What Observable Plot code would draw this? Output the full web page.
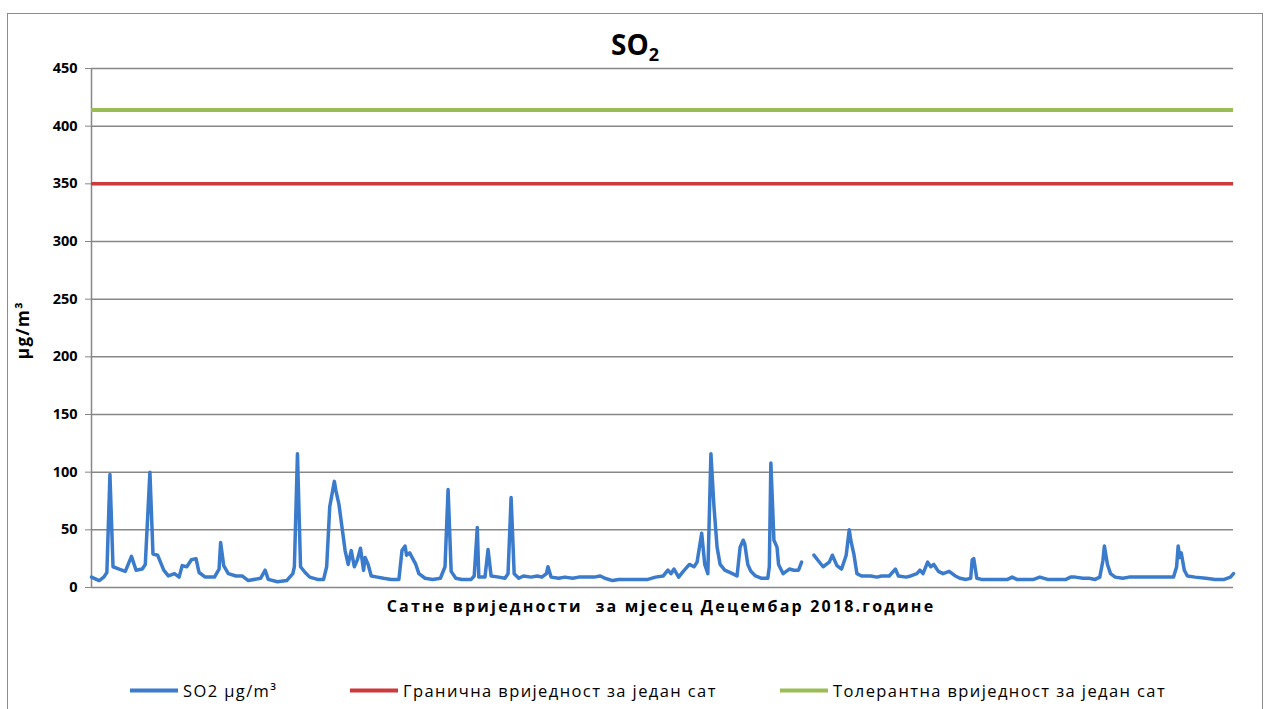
<!DOCTYPE html>
<html>
<head>
<meta charset="utf-8">
<script src="https://cdn.jsdelivr.net/npm/d3@7"></script>
<script src="https://cdn.jsdelivr.net/npm/@observablehq/plot@0.6"></script>
<style>
  body { margin: 0; background: #fff; }
  #wrap { position: relative; width: 1270px; height: 709px; overflow: hidden; font-family: "Open Sans", "Noto Sans", sans-serif; }
  #frame { position: absolute; left: 7px; top: 13px; width: 1256px; height: 720px; border: 1px solid #8c8c8c; box-sizing: border-box; }
  #chart { position: absolute; left: 0; top: 0; }
  #title { position: absolute; left: 0; width: 1270px; top: 25px; text-align: center; font-weight: bold; font-size: 28px; color: #000; }
  #title sub { font-size: 18px; vertical-align: -6px; }
  #ylab { position: absolute; left: 22px; top: 330px; transform: translate(-50%, -50%) rotate(-90deg); font-weight: bold; font-size: 17px; letter-spacing: 1.5px; white-space: nowrap; }
  #xlab { position: absolute; left: 661px; top: 606px; transform: translate(-50%, -50%); font-weight: bold; font-size: 16px; letter-spacing: 2.2px; white-space: pre; }
  .leg { position: absolute; top: 690px; transform: translateY(-50%); font-size: 16.5px; letter-spacing: 1.4px; white-space: nowrap; display: flex; align-items: center; }
  .sw { display: inline-block; width: 48px; height: 4px; margin-right: 5px; }
</style>
</head>
<body>
<div id="wrap">
  <div id="frame"></div>
  <div id="chart"></div>
  <div id="title">SO<sub>2</sub></div>
  <div id="ylab">µg/m³</div>
  <div id="xlab">Сатне вриједности  за мјесец Децембар 2018.године</div>
  <div id="legend"></div>
</div>
<script>
// Hour of month (0..743) and SO2 hourly concentration (µg/m³)
const hours = [0,5,8,10,12,14,18,22,26,29,33,35,38,40,43,47,50,54,57,59,62,65,68,70,74,80,83,84,86,89,94,98,102,
  110,113,115,121,127,131,132,134,136,139,142,147,151,153,155,158,159,161,163,165,167,169,171,173,175,177,178,180,182,186,190,195,200,202,204,205,207,209,
  211,213,217,222,227,230,232,234,237,241,247,249,251,252,256,258,260,265,269,271,273,275,278,281,286,290,293,296,297,299,304,308,313,317,
  322,327,331,334,339,343,347,352,356,362,367,372,375,377,379,382,385,389,392,394,397,399,401,403,405,407,409,412,417,420,422,424,
  425,427,429,432,436,440,441,442,444,446,447,450,454,457,460,462,466,
  470,473,476,480,482,485,488,491,493,494,496,498,501,507,511,514,519,523,525,530,533,
  537,539,541,544,546,548,551,554,558,562,565,569,572,573,574,576,579,585,591,596,599,602,608,613,617,622,628,634,637,640,
  645,649,653,656,658,659,661,663,666,671,675,684,694,704,706,707,708,709,711,713,718,725,731,737,741,743];
const so2 = [9,6,9,13,98,18,16,14,27,15,16,20,100,29,28,15,10,12,9,19,18,24,25,13,9,9,16,39,19,12,10,10,6,
  8,15,7,5,6,12,18,116,18,13,9,7,7,18,70,92,84,72,52,32,20,32,18,24,34,15,26,20,10,9,8,7,7,32,36,28,30,25,
  20,12,8,7,8,18,85,14,8,7,7,10,52,9,9,33,10,9,8,12,78,12,8,10,9,10,9,12,18,9,8,9,8,9,
  9,9,10,8,6,7,7,7,7,7,9,10,15,12,16,9,14,20,18,22,47,20,12,116,70,35,20,15,12,10,35,41,
  38,20,14,10,8,8,18,108,41,35,20,12,16,15,15,22,null,
  28,23,18,22,28,19,16,28,50,41,29,12,10,10,9,10,10,16,10,9,10,
  12,15,12,22,18,20,14,12,14,10,8,7,8,24,25,8,7,7,7,7,9,7,7,7,9,7,7,7,9,9,
  8,8,7,9,23,36,20,12,9,8,9,9,9,9,18,36,26,30,15,10,9,8,7,7,9,12];
const limitValue = [350];      // Гранична вриједност за један сат
const toleranceValue = [414];  // Толерантна вриједност за један сат
const yTicks = [0,50,100,150,200,250,300,350,400,450];
const seriesNames = ["SO2 µg/m³", "Гранична вриједност за један сат", "Толерантна вриједност за један сат"];
const seriesColors = ["#3b7bcc", "#cc3a3a", "#9bbd55"];

const data = hours.map((h, i) => ({hour: h, value: so2[i]}));

const chart = Plot.plot({
  width: 1270,
  height: 640,
  marginLeft: 91,
  marginRight: 37,
  marginTop: 68,
  marginBottom: 53,
  style: {fontFamily: "'Open Sans', 'Noto Sans', sans-serif", background: "transparent", overflow: "visible"},
  x: {domain: [0, 743], axis: null},
  y: {domain: [0, 450], ticks: yTicks, axis: null},
  marks: [
    Plot.ruleY(yTicks, {stroke: "#878787", strokeWidth: 1.5}),
    Plot.ruleX([0], {y1: 0, y2: 450, stroke: "#878787", strokeWidth: 1.5}),
    Plot.axisY({ticks: yTicks, tickSize: 6, tickPadding: 8, stroke: "#878787", fontSize: 14.5, fontWeight: "bold", fill: "#000", label: null}),
    Plot.ruleY(toleranceValue, {stroke: seriesColors[2], strokeWidth: 4}),
    Plot.ruleY(limitValue, {stroke: seriesColors[1], strokeWidth: 3.5}),
    Plot.line(data, {x: "hour", y: "value", stroke: seriesColors[0], strokeWidth: 3.5, strokeLinejoin: "round", curve: "linear"})
  ]
});
document.getElementById("chart").appendChild(chart);

const legPos = [130, 350, 780];
const legend = document.getElementById("legend");
seriesNames.forEach((name, i) => {
  const d = document.createElement("div");
  d.className = "leg";
  d.style.left = legPos[i] + "px";
  d.innerHTML = `<span class="sw" style="background:${seriesColors[i]}"></span><span>${name}</span>`;
  legend.appendChild(d);
});
</script>
</body>
</html>
